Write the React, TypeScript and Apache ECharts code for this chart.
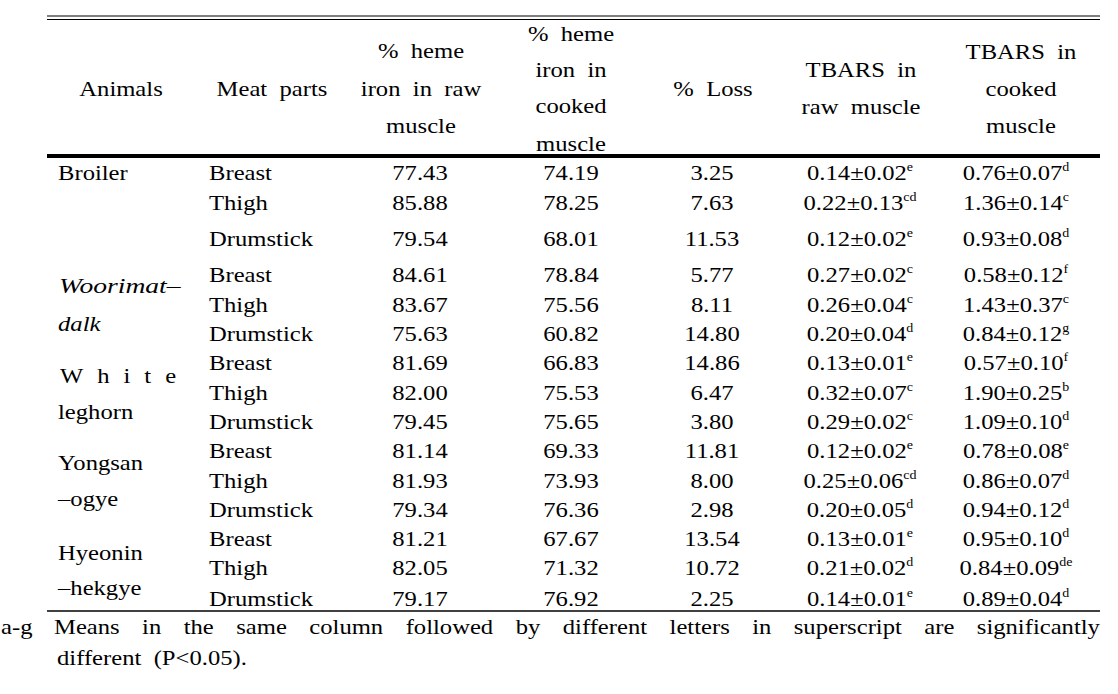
import React, { useEffect, useRef } from "react";
import * as echarts from "echarts";

// ---------- data ----------
const animalLabels: string[][] = [
  ["Broiler"],
  ["Woorimat–", "dalk"],
  ["White", "leghorn"],
  ["Yongsan", "–ogye"],
  ["Hyeonin", "–hekgye"],
];
const meatParts = [
  "Breast", "Thigh", "Drumstick",
  "Breast", "Thigh", "Drumstick",
  "Breast", "Thigh", "Drumstick",
  "Breast", "Thigh", "Drumstick",
  "Breast", "Thigh", "Drumstick",
];
const hemeRaw = [77.43, 85.88, 79.54, 84.61, 83.67, 75.63, 81.69, 82.0, 79.45, 81.14, 81.93, 79.34, 81.21, 82.05, 79.17];
const hemeCooked = [74.19, 78.25, 68.01, 78.84, 75.56, 60.82, 66.83, 75.53, 75.65, 69.33, 73.93, 76.36, 67.67, 71.32, 76.92];
const lossPct = [3.25, 7.63, 11.53, 5.77, 8.11, 14.8, 14.86, 6.47, 3.8, 11.81, 8.0, 2.98, 13.54, 10.72, 2.25];
const tbarsRawMean = [0.14, 0.22, 0.12, 0.27, 0.26, 0.2, 0.13, 0.32, 0.29, 0.12, 0.25, 0.2, 0.13, 0.21, 0.14];
const tbarsRawSd = [0.02, 0.13, 0.02, 0.02, 0.04, 0.04, 0.01, 0.07, 0.02, 0.02, 0.06, 0.05, 0.01, 0.02, 0.01];
const tbarsRawSig = ["e", "cd", "e", "c", "c", "d", "e", "c", "c", "e", "cd", "d", "e", "d", "e"];
const tbarsCookedMean = [0.76, 1.36, 0.93, 0.58, 1.43, 0.84, 0.57, 1.9, 1.09, 0.78, 0.86, 0.94, 0.95, 0.84, 0.89];
const tbarsCookedSd = [0.07, 0.14, 0.08, 0.12, 0.37, 0.12, 0.1, 0.25, 0.1, 0.08, 0.07, 0.12, 0.1, 0.09, 0.04];
const tbarsCookedSig = ["d", "c", "d", "f", "c", "g", "f", "b", "d", "e", "d", "d", "d", "de", "d"];
const headerLines: string[][] = [
  ["Animals"],
  ["Meat  parts"],
  ["%  heme", "iron  in  raw", "muscle"],
  ["%  heme", "iron  in", "cooked", "muscle"],
  ["%  Loss"],
  ["TBARS  in", "raw  muscle"],
  ["TBARS  in", "cooked", "muscle"],
];
const footnoteLabel = "a-g";
const footnoteLine1 = "Means in the same column followed by different letters in superscript are significantly";
const footnoteLine2 = "different  (P<0.05).";

// ---------- layout ----------
const FONT = "Liberation Serif";
const FS = 22;
const SX = 1.12;
const LEFT = 47;
const RIGHT = 1100;
const HEADER_X = [121, 272, 421, 571, 713, 861, 1021];
const HEADER_Y = [[88], [88], [50, 88, 125], [33, 69, 105, 143], [88], [69, 106], [51, 88, 125]];
const ROW_Y = [172, 202, 238, 274, 304, 333, 362, 392, 421, 450, 480, 509, 538, 567, 598];
const ANIMAL_X = 58;
const ANIMAL_Y = [[172], [286, 323], [375, 411], [462, 498], [552, 587]];
const PART_X = 209;
const COL_X = [420, 571, 712, 860, 1016];

let measureCtx: CanvasRenderingContext2D | null = null;
function measure(text: string, italic = false): number {
  if (!measureCtx) measureCtx = document.createElement("canvas").getContext("2d");
  measureCtx!.font = `${italic ? "italic " : ""}${FS}px "${FONT}"`;
  return measureCtx!.measureText(text).width * SX;
}

function txt(x: number, y: number, text: string, align: string, extra: any = {}) {
  return {
    type: "text",
    x,
    y,
    scaleX: extra.sx || SX,
    silent: true,
    style: {
      text,
      fontFamily: FONT,
      fontSize: FS,
      fontStyle: extra.italic ? "italic" : "normal",
      fill: "#000",
      align,
      verticalAlign: "middle",
      textAlign: align,
      textVerticalAlign: "middle",
      ...(extra.rich ? { rich: extra.rich } : {}),
    },
  };
}

function justify(tokens: string[], x0: number, x1: number, y: number, italic = false) {
  const widths = tokens.map((t) => measure(t, italic));
  const total = widths.reduce((a, b) => a + b, 0);
  const gap = tokens.length > 1 ? (x1 - x0 - total) / (tokens.length - 1) : 0;
  const els: any[] = [];
  let x = x0;
  tokens.forEach((t, i) => {
    els.push(txt(x, y, t, "left", { italic }));
    x += widths[i] + gap;
  });
  return els;
}

const richStyles = {
  n: { fontFamily: FONT, fontSize: FS, lineHeight: 24, fill: "#000" },
  s: { fontFamily: FONT, fontSize: 12.5, lineHeight: 12, verticalAlign: "top", fill: "#000" },
};

function supText(x: number, y: number, mean: number, sd: number, sig: string) {
  return txt(x, y, `{n|${mean.toFixed(2)}±${sd.toFixed(2)}}{s|${sig}}`, "center", { rich: richStyles });
}

function line(x1: number, y: number, x2: number, w: number) {
  return {
    type: "line",
    silent: true,
    shape: { x1, y1: y, x2, y2: y },
    style: { stroke: "#000", lineWidth: w },
  };
}

function buildGraphics() {
  const els: any[] = [];
  els.push(line(LEFT, 16, RIGHT, 1.2));
  els.push(line(LEFT, 19.5, RIGHT, 1.2));
  els.push(line(LEFT, 156, RIGHT, 4));
  els.push(line(LEFT, 611, RIGHT, 1.5));

  headerLines.forEach((lines, c) => {
    lines.forEach((l, k) => els.push(txt(HEADER_X[c], HEADER_Y[c][k], l, "center")));
  });

  animalLabels.forEach((lines, a) => {
    lines.forEach((l, k) => {
      const y = ANIMAL_Y[a][k];
      if (a === 2 && k === 0) {
        els.push(...justify(l.split(""), ANIMAL_X + 2, 187 - measure("e"), y));
      } else if (a === 1 && k === 0) {
        // widen the italic label to the span it has in the source
        els.push(txt(ANIMAL_X + 1, y, l, "left", { italic: true, sx: SX * 1.12 }));
      } else {
        els.push(txt(ANIMAL_X, y, l, "left", { italic: a === 1 }));
      }
    });
  });

  meatParts.forEach((p, i) => {
    const y = ROW_Y[i];
    els.push(txt(PART_X, y, p, "left"));
    els.push(txt(COL_X[0], y, hemeRaw[i].toFixed(2), "center"));
    els.push(txt(COL_X[1], y, hemeCooked[i].toFixed(2), "center"));
    els.push(txt(COL_X[2], y, lossPct[i].toFixed(2), "center"));
    els.push(supText(COL_X[3], y, tbarsRawMean[i], tbarsRawSd[i], tbarsRawSig[i]));
    els.push(supText(COL_X[4], y, tbarsCookedMean[i], tbarsCookedSd[i], tbarsCookedSig[i]));
  });

  els.push(txt(1, 626, footnoteLabel, "left"));
  const words = footnoteLine1.split(" ");
  els.push(...justify(words, 54, RIGHT, 626));
  els.push(txt(57, 657, footnoteLine2, "left"));
  return els;
}

export default function App() {
  const ref = useRef<HTMLDivElement>(null);
  useEffect(() => {
    document.body.style.margin = "0";
    const chart = echarts.init(ref.current!, undefined, { renderer: "svg" });
    chart.setOption({
      animation: false,
      backgroundColor: "#fff",
      graphic: { elements: buildGraphics() },
    });
    return () => chart.dispose();
  }, []);
  return <div ref={ref} style={{ width: 1118, height: 694, background: "#fff" }} />;
}
